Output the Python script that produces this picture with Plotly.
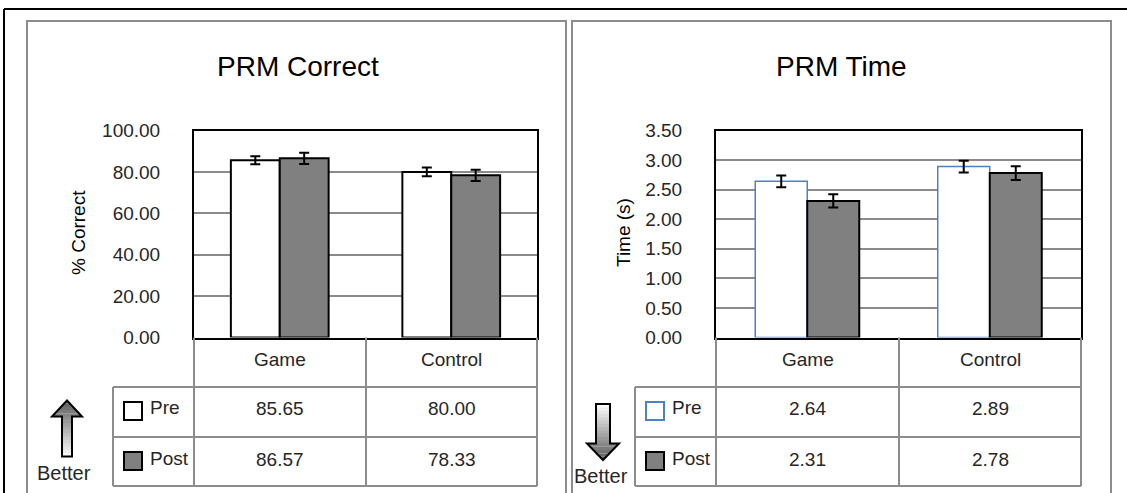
import plotly.graph_objects as go

W, H = 1127, 493


def X(px):
    return px / W


def Y(py):
    return 1 - py / H


# ---------------- data ----------------
groups = ["Game", "Control"]
correct_pre = [85.65, 80.00]
correct_post = [86.57, 78.33]
correct_pre_err = [1.9, 2.1]
correct_post_err = [2.7, 2.7]
time_pre = [2.64, 2.89]
time_post = [2.31, 2.78]
time_pre_err = [0.10, 0.10]
time_post_err = [0.11, 0.115]
correct_ticks = [0, 20, 40, 60, 80, 100]
time_ticks = [0, 0.5, 1.0, 1.5, 2.0, 2.5, 3.0, 3.5]
row_labels = ["Pre", "Post"]

FONT = "Liberation Sans, Arial, sans-serif"
GRID = "#8a8a8a"
TLINE = "#8c8c8c"
POST = "#808080"
BLUE = "#4F81BD"

fig = go.Figure()


def err(arr):
    return dict(type="data", array=arr, visible=True, color="black", thickness=2, width=5)


fig.add_trace(go.Bar(x=groups, y=correct_pre, name="Pre", xaxis="x", yaxis="y",
                     marker=dict(color="white", line=dict(color="black", width=2)),
                     error_y=err(correct_pre_err)))
fig.add_trace(go.Bar(x=groups, y=correct_post, name="Post", xaxis="x", yaxis="y",
                     marker=dict(color=POST, line=dict(color="black", width=2)),
                     error_y=err(correct_post_err)))
fig.add_trace(go.Bar(x=groups, y=time_pre, name="Pre", xaxis="x2", yaxis="y2",
                     marker=dict(color="white", line=dict(color=BLUE, width=1.5)),
                     error_y=err(time_pre_err)))
fig.add_trace(go.Bar(x=groups, y=time_post, name="Post", xaxis="x2", yaxis="y2",
                     marker=dict(color=POST, line=dict(color="black", width=2)),
                     error_y=err(time_post_err)))

# panel geometry (pixels)
PLOT_TOP, PLOT_BOT = 130.5, 337.5
L = dict(x0=194, xm=366, x1=537, lab0=113)
R = dict(x0=716, xm=899, x1=1081, lab0=635)
ROW_Y = [337.5, 387, 437, 486]


def xaxis(p):
    return dict(domain=[X(p["x0"]), X(p["x1"])], range=[-0.5, 1.5], type="category",
                showticklabels=False, showgrid=False, zeroline=False,
                showline=True, mirror=True, linecolor="black", linewidth=2, ticks="",
                fixedrange=True, automargin=False)


def yaxis(anchor, rng, ticks):
    return dict(domain=[Y(PLOT_BOT), Y(PLOT_TOP)], range=rng, anchor=anchor,
                tickvals=ticks, ticktext=[f"{t:.2f}" for t in ticks],
                showgrid=True, gridcolor=GRID, gridwidth=1.5, zeroline=False,
                showline=True, mirror=True, linecolor="black", linewidth=2,
                ticks="", ticklabelstandoff=28, automargin=False,
                tickfont=dict(family=FONT, size=19, color="#262626"), fixedrange=True)


xa1 = xaxis(L)
xa1["anchor"] = "y"
xa2 = xaxis(R)
xa2["anchor"] = "y2"

shapes = []
annotations = []


def line(x0, y0, x1, y1, color=TLINE, width=2):
    shapes.append(dict(type="line", xref="paper", yref="paper",
                       x0=X(x0), y0=Y(y0), x1=X(x1), y1=Y(y1),
                       line=dict(color=color, width=width)))


def rect(x0, y0, x1, y1, fill, color, width=2):
    shapes.append(dict(type="rect", xref="paper", yref="paper",
                       x0=X(x0), y0=Y(y0), x1=X(x1), y1=Y(y1),
                       fillcolor=fill, line=dict(color=color, width=width)))


def text(x, y, s, size=19, xanchor="center", angle=0, color="#262626"):
    annotations.append(dict(xref="paper", yref="paper", x=X(x), y=Y(y), text=s,
                            showarrow=False, xanchor=xanchor, yanchor="middle",
                            textangle=angle, font=dict(family=FONT, size=size, color=color)))


# outer frame and panel borders
line(4, 9, 1130, 9, color="black", width=2)
line(4, 9, 4, 500, color="black", width=2)
rect(27, 21, 566, 520, "rgba(0,0,0,0)", TLINE, 2)
rect(572, 21, 1111, 520, "rgba(0,0,0,0)", TLINE, 2)


def table(p, pre_vals, post_vals, pre_line):
    x0, xm, x1, lab0 = p["x0"], p["xm"], p["x1"], p["lab0"]
    for xx in (x0, xm, x1):
        line(xx, ROW_Y[0], xx, ROW_Y[3])
    line(lab0, ROW_Y[1], lab0, ROW_Y[3])
    for yy in ROW_Y[1:]:
        line(lab0, yy, x1, yy)
    c1, c2 = (x0 + xm) / 2, (xm + x1) / 2
    text(c1, 359, groups[0])
    text(c2, 359, groups[1])
    text(c1, 408, f"{pre_vals[0]:.2f}")
    text(c2, 408, f"{pre_vals[1]:.2f}")
    text(c1, 459, f"{post_vals[0]:.2f}")
    text(c2, 459, f"{post_vals[1]:.2f}")
    kx = lab0 + 11
    rect(kx, 402, kx + 18, 420, "white", pre_line, 2)
    rect(kx, 452, kx + 18, 470, POST, "black", 2)
    text(kx + 24, 407, row_labels[0], xanchor="left")
    text(kx + 24, 458, row_labels[1], xanchor="left")


table(L, correct_pre, correct_post, "black")
table(R, time_pre, time_post, BLUE)


def mix(t, dark=(90, 90, 90)):
    c = [round(255 + (d - 255) * t) for d in dark]
    return f"rgb({c[0]},{c[1]},{c[2]})"


def arrow(cx, tail_y, base_y, tip_y, sh, hh, n_shaft=12, n_head=5):
    total = tip_y - tail_y

    def poly(pts, color):
        d = "M " + " L ".join(f"{X(px)},{Y(py)}" for px, py in pts) + " Z"
        shapes.append(dict(type="path", xref="paper", yref="paper", path=d,
                           fillcolor=color, line=dict(width=0)))

    for i in range(n_shaft):
        ya = tail_y + (base_y - tail_y) * i / n_shaft
        yb = tail_y + (base_y - tail_y) * (i + 1) / n_shaft
        ybx = yb + (0.6 if yb > ya else -0.6)
        t = ((ya + yb) / 2 - tail_y) / total
        poly([(cx - sh, ya), (cx + sh, ya), (cx + sh, ybx), (cx - sh, ybx)], mix(t))
    for i in range(n_head):
        ya = base_y + (tip_y - base_y) * i / n_head
        yb = base_y + (tip_y - base_y) * (i + 1) / n_head
        wa = hh * (tip_y - ya) / (tip_y - base_y)
        wb = hh * (tip_y - yb) / (tip_y - base_y)
        t = ((ya + yb) / 2 - tail_y) / total
        poly([(cx - wa, ya), (cx + wa, ya), (cx + wb, yb), (cx - wb, yb)], mix(t))
    pts = [(cx - sh, tail_y), (cx - sh, base_y), (cx - hh, base_y), (cx, tip_y),
           (cx + hh, base_y), (cx + sh, base_y), (cx + sh, tail_y)]
    d = "M " + " L ".join(f"{X(px)},{Y(py)}" for px, py in pts) + " Z"
    shapes.append(dict(type="path", xref="paper", yref="paper", path=d,
                       fillcolor="rgba(0,0,0,0)", line=dict(color="black", width=2)))


arrow(67, 456.5, 416.5, 400.5, 5, 15)
arrow(603, 404, 443.5, 460, 7, 16)
text(64, 473, "Better", size=20)
text(601, 476, "Better", size=20)

text(298, 66, "PRM Correct", size=28, color="black")
text(841, 66, "PRM Time", size=28, color="black")
text(79, 233, "% Correct", angle=-90, color="black")
text(624, 233, "Time (s)", angle=-90, color="black")

fig.update_layout(
    width=W, height=H, margin=dict(l=0, r=0, t=0, b=0, pad=0, autoexpand=False),
    paper_bgcolor="white", plot_bgcolor="white",
    barmode="group", bargap=0.43, bargroupgap=0,
    showlegend=False,
    xaxis=xa1, yaxis=yaxis("x", [0, 100], correct_ticks),
    xaxis2=xa2, yaxis2=yaxis("x2", [0, 3.5], time_ticks),
    shapes=shapes, annotations=annotations,
    font=dict(family=FONT),
)

fig.write_html("out.html", config={"displayModeBar": False},
               post_script="document.body.style.margin='0px';")
